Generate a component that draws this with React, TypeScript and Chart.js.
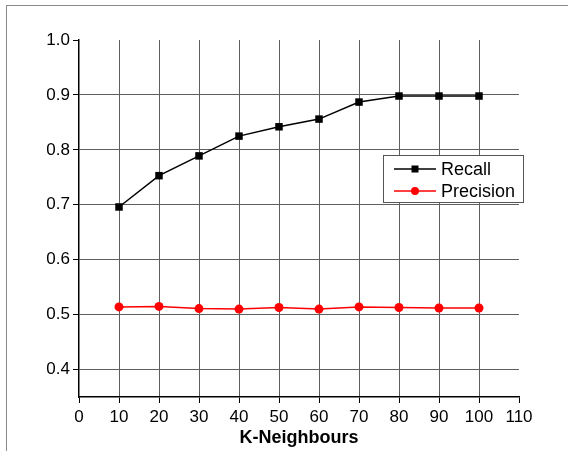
import React, { useEffect, useRef } from "react";
import { Chart, registerables } from "chart.js";

Chart.register(...registerables);

const kValues = [10, 20, 30, 40, 50, 60, 70, 80, 90, 100];
const recall = [0.696, 0.753, 0.789, 0.825, 0.842, 0.856, 0.887, 0.898, 0.898, 0.898];
const precision = [0.514, 0.515, 0.511, 0.51, 0.513, 0.51, 0.514, 0.513, 0.512, 0.512];
const yTickValues = [0.4, 0.5, 0.6, 0.7, 0.8, 0.9, 1.0];
const seriesNames = ["Recall", "Precision"];
const xTitle = "K-Neighbours";

const FONT = "'Liberation Sans', Arial, sans-serif";

const legendPlugin = {
  id: "insideLegend",
  afterDraw(chart: any) {
    const ctx = chart.ctx;
    const x = 383, y = 155, w = 140, h = 47;
    ctx.save();
    ctx.fillStyle = "#fff";
    ctx.fillRect(x, y, w, h);
    ctx.strokeStyle = "#555";
    ctx.lineWidth = 1;
    ctx.strokeRect(x + 0.5, y + 0.5, w, h);
    const items = chart.data.datasets;
    items.forEach((ds: any, i: number) => {
      const cy = y + 14 + i * 22;
      ctx.strokeStyle = ds.borderColor;
      ctx.lineWidth = 1.5;
      ctx.beginPath();
      ctx.moveTo(394, cy);
      ctx.lineTo(436, cy);
      ctx.stroke();
      ctx.fillStyle = ds.borderColor;
      if (ds.pointStyle === "rect") {
        ctx.fillRect(415 - 3.5, cy - 3.5, 7, 7);
      } else {
        ctx.beginPath();
        ctx.arc(415, cy, 4, 0, Math.PI * 2);
        ctx.fill();
      }
      ctx.fillStyle = "#000";
      ctx.font = `18px ${FONT}`;
      ctx.textBaseline = "middle";
      ctx.textAlign = "left";
      ctx.fillText(ds.label, 441, cy + 1);
    });
    ctx.restore();
  },
};

export default function App() {
  const ref = useRef<HTMLCanvasElement>(null);
  useEffect(() => {
    if (!ref.current) return;
    const chart = new Chart(ref.current, {
      type: "line",
      data: {
        datasets: [
          {
            label: seriesNames[0],
            data: kValues.map((k, i) => ({ x: k, y: recall[i] })),
            borderColor: "#000",
            backgroundColor: "#000",
            borderWidth: 1.5,
            pointStyle: "rect",
            pointRadius: 5.3,
            pointBorderWidth: 0,
          },
          {
            label: seriesNames[1],
            data: kValues.map((k, i) => ({ x: k, y: precision[i] })),
            borderColor: "#ff0000",
            backgroundColor: "#ff0000",
            borderWidth: 1.5,
            pointStyle: "circle",
            pointRadius: 4.5,
            pointBorderWidth: 0,
          },
        ],
      },
      options: {
        animation: false,
        responsive: false,
        layout: { padding: { left: 0, top: 40, right: 49, bottom: 0 } },
        plugins: { legend: { display: false }, tooltip: { enabled: false } },
        scales: {
          x: {
            type: "linear",
            min: 0,
            max: 110,
            ticks: { stepSize: 10, color: "#000", font: { family: FONT, size: 17 }, padding: 4, maxRotation: 0 },
            grid: {
              color: (c: any) => (c.tick && (c.tick.value === 0 || c.tick.value === 110) ? "rgba(0,0,0,0)" : "#5f5f5f"),
              lineWidth: 1,
              tickColor: "#000",
              tickLength: 6,
            },
            border: { color: "#000", width: 1.5 },
            title: {
              display: true,
              text: xTitle,
              color: "#000",
              font: { family: FONT, size: 18, weight: "bold" },
              padding: { top: 0, bottom: 2 },
            },
            afterFit: (s: any) => {
              s.height = 54;
            },
          },
          y: {
            type: "linear",
            min: 0.35,
            max: 1.0,
            afterBuildTicks: (axis: any) => {
              axis.ticks = yTickValues.map((v) => ({ value: v }));
            },
            ticks: {
              color: "#000",
              font: { family: FONT, size: 17 },
              padding: 3,
              callback: (v: any) => Number(v).toFixed(1),
            },
            grid: {
              color: (c: any) => (c.tick && c.tick.value >= 0.99 ? "rgba(0,0,0,0)" : "#5f5f5f"),
              lineWidth: 1,
              tickColor: "#000",
              tickLength: 6,
            },
            border: { color: "#000", width: 1.5 },
            afterFit: (s: any) => {
              s.width = 79;
            },
          },
        },
      },
      plugins: [legendPlugin],
    } as any);
    return () => chart.destroy();
  }, []);

  return (
    <div style={{ position: "fixed", left: 0, top: 0, width: 568, height: 451, background: "#fff" }}>
      <div
        style={{
          position: "absolute",
          left: 6,
          top: 5,
          right: 0,
          bottom: 0,
          borderLeft: "1.5px solid #8a8a8a",
          borderTop: "1.5px solid #8a8a8a",
        }}
      />
      <canvas ref={ref} width={568} height={451} style={{ position: "absolute", left: 0, top: 0 }} />
    </div>
  );
}
